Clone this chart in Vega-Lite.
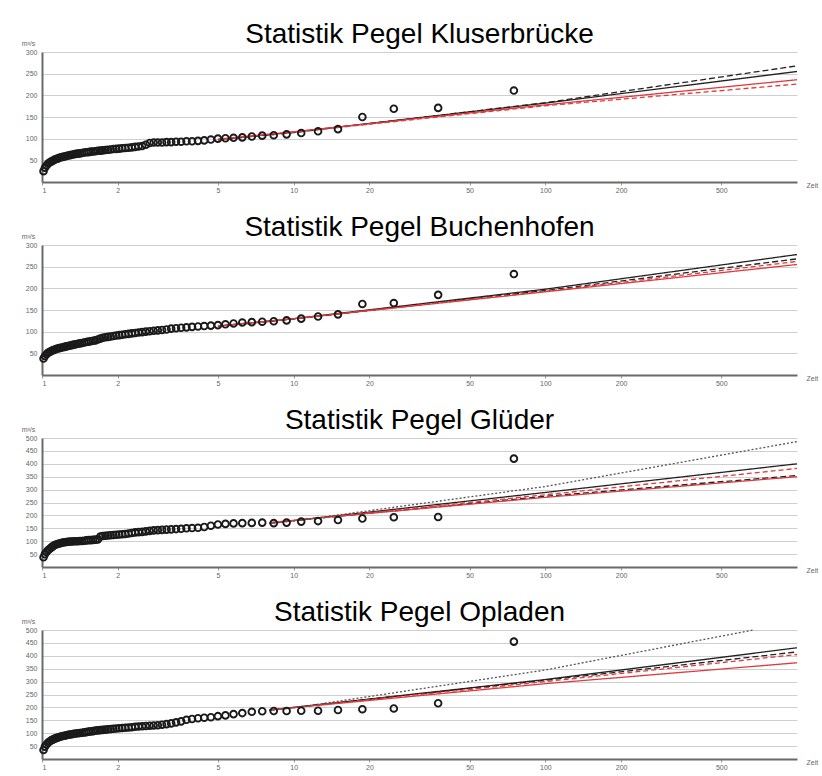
{
  "$schema": "https://vega.github.io/schema/vega-lite/v6.json",
  "background": "white",
  "padding": {"left": 21, "top": 21, "right": 5, "bottom": 5},
  "config": {
    "view": {"stroke": null},
    "font": "Liberation Sans",
    "title": {"font": "Liberation Sans", "fontSize": 28, "fontWeight": "normal", "color": "#000", "anchor": "middle", "baseline": "alphabetic", "offset": -10},
    "axis": {"labelFont": "Liberation Sans", "labelFontSize": 7, "labelColor": "#666", "labelOverlap": false, "tickCount": 30, "domainColor": "#6a6a6a", "domainWidth": 2, "gridColor": "#cfcfcf", "gridWidth": 1, "tickColor": "#999", "titleFont": "Liberation Sans", "titleFontSize": 7, "titleFontWeight": "normal", "titleColor": "#666"}
  },
  "datasets": {
    "points": [
      {"pegel":"K","T":75,"Q":211},{"pegel":"K","T":37.5,"Q":171},{"pegel":"K","T":25,"Q":169},{"pegel":"K","T":18.75,"Q":150},{"pegel":"K","T":15,"Q":122},{"pegel":"K","T":12.5,"Q":117},{"pegel":"K","T":10.714,"Q":113},{"pegel":"K","T":9.375,"Q":110},{"pegel":"K","T":8.333,"Q":108},{"pegel":"K","T":7.5,"Q":107},{"pegel":"K","T":6.818,"Q":105},{"pegel":"K","T":6.25,"Q":103},{"pegel":"K","T":5.769,"Q":102},{"pegel":"K","T":5.357,"Q":101},{"pegel":"K","T":5,"Q":100},{"pegel":"K","T":4.688,"Q":98},{"pegel":"K","T":4.412,"Q":96},{"pegel":"K","T":4.167,"Q":95},{"pegel":"K","T":3.947,"Q":94},{"pegel":"K","T":3.75,"Q":94},{"pegel":"K","T":3.571,"Q":93},{"pegel":"K","T":3.409,"Q":93},{"pegel":"K","T":3.261,"Q":92},{"pegel":"K","T":3.125,"Q":92},{"pegel":"K","T":3,"Q":91},{"pegel":"K","T":2.885,"Q":91},{"pegel":"K","T":2.778,"Q":91},{"pegel":"K","T":2.679,"Q":90},{"pegel":"K","T":2.586,"Q":86},{"pegel":"K","T":2.5,"Q":83},{"pegel":"K","T":2.419,"Q":82},{"pegel":"K","T":2.344,"Q":81},{"pegel":"K","T":2.273,"Q":80},{"pegel":"K","T":2.206,"Q":79},{"pegel":"K","T":2.143,"Q":78.5},{"pegel":"K","T":2.083,"Q":78},{"pegel":"K","T":2.027,"Q":77},{"pegel":"K","T":1.974,"Q":76.5},{"pegel":"K","T":1.923,"Q":76},{"pegel":"K","T":1.875,"Q":75},{"pegel":"K","T":1.829,"Q":74.5},{"pegel":"K","T":1.786,"Q":74},{"pegel":"K","T":1.744,"Q":73},{"pegel":"K","T":1.705,"Q":72.5},{"pegel":"K","T":1.667,"Q":72},{"pegel":"K","T":1.63,"Q":71},{"pegel":"K","T":1.596,"Q":70.5},{"pegel":"K","T":1.563,"Q":70},{"pegel":"K","T":1.531,"Q":69},{"pegel":"K","T":1.5,"Q":68.5},{"pegel":"K","T":1.471,"Q":68},{"pegel":"K","T":1.442,"Q":67},{"pegel":"K","T":1.415,"Q":66},{"pegel":"K","T":1.389,"Q":65.5},{"pegel":"K","T":1.364,"Q":65},{"pegel":"K","T":1.339,"Q":64},{"pegel":"K","T":1.316,"Q":63},{"pegel":"K","T":1.293,"Q":62},{"pegel":"K","T":1.271,"Q":61},{"pegel":"K","T":1.25,"Q":60},{"pegel":"K","T":1.23,"Q":59},{"pegel":"K","T":1.21,"Q":58},{"pegel":"K","T":1.19,"Q":57},{"pegel":"K","T":1.172,"Q":56},{"pegel":"K","T":1.154,"Q":54},{"pegel":"K","T":1.136,"Q":53},{"pegel":"K","T":1.119,"Q":51},{"pegel":"K","T":1.103,"Q":49},{"pegel":"K","T":1.087,"Q":47},{"pegel":"K","T":1.071,"Q":45},{"pegel":"K","T":1.056,"Q":42},{"pegel":"K","T":1.042,"Q":38},{"pegel":"K","T":1.027,"Q":33},{"pegel":"K","T":1.014,"Q":25},
      {"pegel":"B","T":75,"Q":233},{"pegel":"B","T":37.5,"Q":185},{"pegel":"B","T":25,"Q":166},{"pegel":"B","T":18.75,"Q":164},{"pegel":"B","T":15,"Q":140},{"pegel":"B","T":12.5,"Q":135},{"pegel":"B","T":10.714,"Q":130},{"pegel":"B","T":9.375,"Q":126},{"pegel":"B","T":8.333,"Q":124},{"pegel":"B","T":7.5,"Q":123},{"pegel":"B","T":6.818,"Q":122},{"pegel":"B","T":6.25,"Q":121},{"pegel":"B","T":5.769,"Q":119},{"pegel":"B","T":5.357,"Q":117},{"pegel":"B","T":5,"Q":115},{"pegel":"B","T":4.688,"Q":114},{"pegel":"B","T":4.412,"Q":113},{"pegel":"B","T":4.167,"Q":112},{"pegel":"B","T":3.947,"Q":111},{"pegel":"B","T":3.75,"Q":110},{"pegel":"B","T":3.571,"Q":109},{"pegel":"B","T":3.409,"Q":108},{"pegel":"B","T":3.261,"Q":107},{"pegel":"B","T":3.125,"Q":105},{"pegel":"B","T":3,"Q":104},{"pegel":"B","T":2.885,"Q":103},{"pegel":"B","T":2.778,"Q":102},{"pegel":"B","T":2.679,"Q":101},{"pegel":"B","T":2.586,"Q":100},{"pegel":"B","T":2.5,"Q":99},{"pegel":"B","T":2.419,"Q":98},{"pegel":"B","T":2.344,"Q":97},{"pegel":"B","T":2.273,"Q":96},{"pegel":"B","T":2.206,"Q":95},{"pegel":"B","T":2.143,"Q":94},{"pegel":"B","T":2.083,"Q":93},{"pegel":"B","T":2.027,"Q":92},{"pegel":"B","T":1.974,"Q":91},{"pegel":"B","T":1.923,"Q":90},{"pegel":"B","T":1.875,"Q":89},{"pegel":"B","T":1.829,"Q":88},{"pegel":"B","T":1.786,"Q":87},{"pegel":"B","T":1.744,"Q":86},{"pegel":"B","T":1.705,"Q":84},{"pegel":"B","T":1.667,"Q":82},{"pegel":"B","T":1.63,"Q":80},{"pegel":"B","T":1.596,"Q":79},{"pegel":"B","T":1.563,"Q":78},{"pegel":"B","T":1.531,"Q":77},{"pegel":"B","T":1.5,"Q":76},{"pegel":"B","T":1.471,"Q":75},{"pegel":"B","T":1.442,"Q":74},{"pegel":"B","T":1.415,"Q":73},{"pegel":"B","T":1.389,"Q":72},{"pegel":"B","T":1.364,"Q":71},{"pegel":"B","T":1.339,"Q":70},{"pegel":"B","T":1.316,"Q":69},{"pegel":"B","T":1.293,"Q":68},{"pegel":"B","T":1.271,"Q":67},{"pegel":"B","T":1.25,"Q":66},{"pegel":"B","T":1.23,"Q":65},{"pegel":"B","T":1.21,"Q":64},{"pegel":"B","T":1.19,"Q":63},{"pegel":"B","T":1.172,"Q":62},{"pegel":"B","T":1.154,"Q":61},{"pegel":"B","T":1.136,"Q":60},{"pegel":"B","T":1.119,"Q":58},{"pegel":"B","T":1.103,"Q":57},{"pegel":"B","T":1.087,"Q":55},{"pegel":"B","T":1.071,"Q":53},{"pegel":"B","T":1.056,"Q":51},{"pegel":"B","T":1.042,"Q":48},{"pegel":"B","T":1.027,"Q":44},{"pegel":"B","T":1.014,"Q":38},
      {"pegel":"G","T":75,"Q":420},{"pegel":"G","T":37.5,"Q":194},{"pegel":"G","T":25,"Q":193},{"pegel":"G","T":18.75,"Q":188},{"pegel":"G","T":15,"Q":182},{"pegel":"G","T":12.5,"Q":178},{"pegel":"G","T":10.714,"Q":176},{"pegel":"G","T":9.375,"Q":172},{"pegel":"G","T":8.333,"Q":170},{"pegel":"G","T":7.5,"Q":172},{"pegel":"G","T":6.818,"Q":171},{"pegel":"G","T":6.25,"Q":170},{"pegel":"G","T":5.769,"Q":169},{"pegel":"G","T":5.357,"Q":167},{"pegel":"G","T":5,"Q":165},{"pegel":"G","T":4.688,"Q":160},{"pegel":"G","T":4.412,"Q":155},{"pegel":"G","T":4.167,"Q":152},{"pegel":"G","T":3.947,"Q":151},{"pegel":"G","T":3.75,"Q":150},{"pegel":"G","T":3.571,"Q":148},{"pegel":"G","T":3.409,"Q":147},{"pegel":"G","T":3.261,"Q":146},{"pegel":"G","T":3.125,"Q":145},{"pegel":"G","T":3,"Q":144},{"pegel":"G","T":2.885,"Q":143},{"pegel":"G","T":2.778,"Q":142},{"pegel":"G","T":2.679,"Q":140},{"pegel":"G","T":2.586,"Q":138},{"pegel":"G","T":2.5,"Q":136},{"pegel":"G","T":2.419,"Q":135},{"pegel":"G","T":2.344,"Q":134},{"pegel":"G","T":2.273,"Q":132},{"pegel":"G","T":2.206,"Q":130},{"pegel":"G","T":2.143,"Q":128},{"pegel":"G","T":2.083,"Q":127},{"pegel":"G","T":2.027,"Q":126},{"pegel":"G","T":1.974,"Q":125},{"pegel":"G","T":1.923,"Q":124},{"pegel":"G","T":1.875,"Q":123},{"pegel":"G","T":1.829,"Q":122},{"pegel":"G","T":1.786,"Q":121},{"pegel":"G","T":1.744,"Q":120},{"pegel":"G","T":1.705,"Q":118},{"pegel":"G","T":1.667,"Q":107},{"pegel":"G","T":1.63,"Q":106},{"pegel":"G","T":1.596,"Q":105},{"pegel":"G","T":1.563,"Q":104},{"pegel":"G","T":1.531,"Q":104},{"pegel":"G","T":1.5,"Q":103},{"pegel":"G","T":1.471,"Q":102},{"pegel":"G","T":1.442,"Q":101},{"pegel":"G","T":1.415,"Q":101},{"pegel":"G","T":1.389,"Q":100},{"pegel":"G","T":1.364,"Q":100},{"pegel":"G","T":1.339,"Q":100},{"pegel":"G","T":1.316,"Q":99},{"pegel":"G","T":1.293,"Q":99},{"pegel":"G","T":1.271,"Q":98},{"pegel":"G","T":1.25,"Q":97},{"pegel":"G","T":1.23,"Q":96},{"pegel":"G","T":1.21,"Q":95},{"pegel":"G","T":1.19,"Q":93},{"pegel":"G","T":1.172,"Q":91},{"pegel":"G","T":1.154,"Q":89},{"pegel":"G","T":1.136,"Q":87},{"pegel":"G","T":1.119,"Q":84},{"pegel":"G","T":1.103,"Q":80},{"pegel":"G","T":1.087,"Q":75},{"pegel":"G","T":1.071,"Q":70},{"pegel":"G","T":1.056,"Q":65},{"pegel":"G","T":1.042,"Q":58},{"pegel":"G","T":1.027,"Q":50},{"pegel":"G","T":1.014,"Q":38},
      {"pegel":"O","T":75,"Q":455},{"pegel":"O","T":37.5,"Q":216},{"pegel":"O","T":25,"Q":196},{"pegel":"O","T":18.75,"Q":193},{"pegel":"O","T":15,"Q":190},{"pegel":"O","T":12.5,"Q":187},{"pegel":"O","T":10.714,"Q":187},{"pegel":"O","T":9.375,"Q":186},{"pegel":"O","T":8.333,"Q":186},{"pegel":"O","T":7.5,"Q":185},{"pegel":"O","T":6.818,"Q":183},{"pegel":"O","T":6.25,"Q":178},{"pegel":"O","T":5.769,"Q":174},{"pegel":"O","T":5.357,"Q":169},{"pegel":"O","T":5,"Q":166},{"pegel":"O","T":4.688,"Q":162},{"pegel":"O","T":4.412,"Q":160},{"pegel":"O","T":4.167,"Q":158},{"pegel":"O","T":3.947,"Q":155},{"pegel":"O","T":3.75,"Q":152},{"pegel":"O","T":3.571,"Q":146},{"pegel":"O","T":3.409,"Q":142},{"pegel":"O","T":3.261,"Q":138},{"pegel":"O","T":3.125,"Q":135},{"pegel":"O","T":3,"Q":133},{"pegel":"O","T":2.885,"Q":131},{"pegel":"O","T":2.778,"Q":130},{"pegel":"O","T":2.679,"Q":129},{"pegel":"O","T":2.586,"Q":128},{"pegel":"O","T":2.5,"Q":127},{"pegel":"O","T":2.419,"Q":126},{"pegel":"O","T":2.344,"Q":125},{"pegel":"O","T":2.273,"Q":123},{"pegel":"O","T":2.206,"Q":122},{"pegel":"O","T":2.143,"Q":121},{"pegel":"O","T":2.083,"Q":120},{"pegel":"O","T":2.027,"Q":119},{"pegel":"O","T":1.974,"Q":118},{"pegel":"O","T":1.923,"Q":117},{"pegel":"O","T":1.875,"Q":116},{"pegel":"O","T":1.829,"Q":115},{"pegel":"O","T":1.786,"Q":114},{"pegel":"O","T":1.744,"Q":113},{"pegel":"O","T":1.705,"Q":112},{"pegel":"O","T":1.667,"Q":111},{"pegel":"O","T":1.63,"Q":110},{"pegel":"O","T":1.596,"Q":108},{"pegel":"O","T":1.563,"Q":107},{"pegel":"O","T":1.531,"Q":106},{"pegel":"O","T":1.5,"Q":104},{"pegel":"O","T":1.471,"Q":103},{"pegel":"O","T":1.442,"Q":102},{"pegel":"O","T":1.415,"Q":101},{"pegel":"O","T":1.389,"Q":100},{"pegel":"O","T":1.364,"Q":99},{"pegel":"O","T":1.339,"Q":98},{"pegel":"O","T":1.316,"Q":96},{"pegel":"O","T":1.293,"Q":95},{"pegel":"O","T":1.271,"Q":94},{"pegel":"O","T":1.25,"Q":92},{"pegel":"O","T":1.23,"Q":90},{"pegel":"O","T":1.21,"Q":89},{"pegel":"O","T":1.19,"Q":87},{"pegel":"O","T":1.172,"Q":85},{"pegel":"O","T":1.154,"Q":83},{"pegel":"O","T":1.136,"Q":81},{"pegel":"O","T":1.119,"Q":78},{"pegel":"O","T":1.103,"Q":75},{"pegel":"O","T":1.087,"Q":72},{"pegel":"O","T":1.071,"Q":68},{"pegel":"O","T":1.056,"Q":63},{"pegel":"O","T":1.042,"Q":56},{"pegel":"O","T":1.027,"Q":48},{"pegel":"O","T":1.014,"Q":35}
    ],
    "fits": [
      {"pegel":"K","fit":"a","T":5,"Q":98},{"pegel":"K","fit":"a","T":10,"Q":115},{"pegel":"K","fit":"a","T":100,"Q":182},{"pegel":"K","fit":"a","T":1000,"Q":255},
      {"pegel":"K","fit":"b","T":5,"Q":97},{"pegel":"K","fit":"b","T":10,"Q":114},{"pegel":"K","fit":"b","T":100,"Q":183},{"pegel":"K","fit":"b","T":1000,"Q":268},
      {"pegel":"K","fit":"c","T":5,"Q":99},{"pegel":"K","fit":"c","T":10,"Q":116},{"pegel":"K","fit":"c","T":100,"Q":178},{"pegel":"K","fit":"c","T":1000,"Q":236},
      {"pegel":"K","fit":"d","T":5,"Q":98},{"pegel":"K","fit":"d","T":10,"Q":115},{"pegel":"K","fit":"d","T":100,"Q":176},{"pegel":"K","fit":"d","T":1000,"Q":226},
      {"pegel":"B","fit":"a","T":5,"Q":113},{"pegel":"B","fit":"a","T":10,"Q":130},{"pegel":"B","fit":"a","T":100,"Q":198},{"pegel":"B","fit":"a","T":1000,"Q":278},
      {"pegel":"B","fit":"b","T":5,"Q":112},{"pegel":"B","fit":"b","T":10,"Q":129},{"pegel":"B","fit":"b","T":100,"Q":195},{"pegel":"B","fit":"b","T":1000,"Q":268},
      {"pegel":"B","fit":"c","T":5,"Q":113},{"pegel":"B","fit":"c","T":10,"Q":130},{"pegel":"B","fit":"c","T":100,"Q":192},{"pegel":"B","fit":"c","T":1000,"Q":255},
      {"pegel":"B","fit":"d","T":5,"Q":113},{"pegel":"B","fit":"d","T":10,"Q":130},{"pegel":"B","fit":"d","T":100,"Q":193},{"pegel":"B","fit":"d","T":1000,"Q":262},
      {"pegel":"G","fit":"a","T":8,"Q":170},{"pegel":"G","fit":"a","T":10,"Q":180},{"pegel":"G","fit":"a","T":100,"Q":289},{"pegel":"G","fit":"a","T":1000,"Q":400},
      {"pegel":"G","fit":"b","T":8,"Q":171},{"pegel":"G","fit":"b","T":10,"Q":180},{"pegel":"G","fit":"b","T":100,"Q":274},{"pegel":"G","fit":"b","T":1000,"Q":355},
      {"pegel":"G","fit":"c","T":8,"Q":172},{"pegel":"G","fit":"c","T":10,"Q":181},{"pegel":"G","fit":"c","T":100,"Q":270},{"pegel":"G","fit":"c","T":1000,"Q":350},
      {"pegel":"G","fit":"d","T":8,"Q":170},{"pegel":"G","fit":"d","T":10,"Q":180},{"pegel":"G","fit":"d","T":100,"Q":280},{"pegel":"G","fit":"d","T":1000,"Q":382},
      {"pegel":"G","fit":"e","T":8,"Q":168},{"pegel":"G","fit":"e","T":10,"Q":178},{"pegel":"G","fit":"e","T":100,"Q":312},{"pegel":"G","fit":"e","T":1000,"Q":486},
      {"pegel":"O","fit":"a","T":8,"Q":190},{"pegel":"O","fit":"a","T":10,"Q":200},{"pegel":"O","fit":"a","T":100,"Q":308},{"pegel":"O","fit":"a","T":1000,"Q":431},
      {"pegel":"O","fit":"b","T":8,"Q":190},{"pegel":"O","fit":"b","T":10,"Q":200},{"pegel":"O","fit":"b","T":100,"Q":305},{"pegel":"O","fit":"b","T":1000,"Q":415},
      {"pegel":"O","fit":"c","T":8,"Q":190},{"pegel":"O","fit":"c","T":10,"Q":199},{"pegel":"O","fit":"c","T":100,"Q":292},{"pegel":"O","fit":"c","T":1000,"Q":373},
      {"pegel":"O","fit":"d","T":8,"Q":190},{"pegel":"O","fit":"d","T":10,"Q":200},{"pegel":"O","fit":"d","T":100,"Q":300},{"pegel":"O","fit":"d","T":1000,"Q":405},
      {"pegel":"O","fit":"e","T":8,"Q":188},{"pegel":"O","fit":"e","T":10,"Q":198},{"pegel":"O","fit":"e","T":100,"Q":345},{"pegel":"O","fit":"e","T":670,"Q":500}
    ]
  },
  "bounds": "flush",
  "spacing": 63,
  "vconcat": [
    {
      "width": 755, "height": 130,
      "title": {"text": "Statistik Pegel Kluserbrücke"},
      "layer": [
        {"data": {"name": "fits"}, "transform": [{"filter": "datum.pegel === 'K'"}],
         "mark": {"type": "line", "strokeWidth": 1.3},
         "encoding": {
           "x": {"field": "T", "type": "quantitative", "scale": {"type": "log", "domain": [1, 1000]}, "axis": {"values": [1,2,5,10,20,50,100,200,500], "tickCount": 30, "format": "d", "grid": false, "title": "Zeit", "titleX": 764, "titleY": 3, "titleAlign": "left", "titleBaseline": "middle", "titleAngle": 0, "tickSize": 3, "labelPadding": 1}},
           "y": {"field": "Q", "type": "quantitative", "scale": {"domain": [0, 300], "nice": false}, "axis": {"values": [50,100,150,200,250,300], "tickCount": 30, "title": "m³/s", "titleAngle": 0, "titleX": -14, "titleY": -9, "titleAlign": "center", "titleBaseline": "middle", "ticks": false, "labelPadding": 5}},
           "color": {"field": "fit", "type": "nominal", "scale": {"domain": ["a","b","c","d","e"], "range": ["#222222","#222222","#e0393e","#e0393e","#555555"]}, "legend": null},
           "strokeDash": {"field": "fit", "type": "nominal", "scale": {"domain": ["a","b","c","d","e"], "range": [[1,0],[6,3],[1,0],[5,3],[2,2]]}, "legend": null}
         }},
        {"data": {"name": "points"}, "transform": [{"filter": "datum.pegel === 'K'"}],
         "mark": {"type": "point", "filled": false, "size": 45, "strokeWidth": 1.9, "color": "#1a1a1a", "opacity": 1},
         "encoding": {"x": {"field": "T", "type": "quantitative"}, "y": {"field": "Q", "type": "quantitative"}}}
      ]
    },
    {
      "width": 755, "height": 130,
      "title": {"text": "Statistik Pegel Buchenhofen"},
      "layer": [
        {"data": {"name": "fits"}, "transform": [{"filter": "datum.pegel === 'B'"}],
         "mark": {"type": "line", "strokeWidth": 1.3},
         "encoding": {
           "x": {"field": "T", "type": "quantitative", "scale": {"type": "log", "domain": [1, 1000]}, "axis": {"values": [1,2,5,10,20,50,100,200,500], "tickCount": 30, "format": "d", "grid": false, "title": "Zeit", "titleX": 764, "titleY": 3, "titleAlign": "left", "titleBaseline": "middle", "titleAngle": 0, "tickSize": 3, "labelPadding": 1}},
           "y": {"field": "Q", "type": "quantitative", "scale": {"domain": [0, 300], "nice": false}, "axis": {"values": [50,100,150,200,250,300], "tickCount": 30, "title": "m³/s", "titleAngle": 0, "titleX": -14, "titleY": -9, "titleAlign": "center", "titleBaseline": "middle", "ticks": false, "labelPadding": 5}},
           "color": {"field": "fit", "type": "nominal", "scale": {"domain": ["a","b","c","d","e"], "range": ["#222222","#222222","#e0393e","#e0393e","#555555"]}, "legend": null},
           "strokeDash": {"field": "fit", "type": "nominal", "scale": {"domain": ["a","b","c","d","e"], "range": [[1,0],[6,3],[1,0],[5,3],[2,2]]}, "legend": null}
         }},
        {"data": {"name": "points"}, "transform": [{"filter": "datum.pegel === 'B'"}],
         "mark": {"type": "point", "filled": false, "size": 45, "strokeWidth": 1.9, "color": "#1a1a1a", "opacity": 1},
         "encoding": {"x": {"field": "T", "type": "quantitative"}, "y": {"field": "Q", "type": "quantitative"}}}
      ]
    },
    {
      "width": 755, "height": 129,
      "title": {"text": "Statistik Pegel Glüder"},
      "layer": [
        {"data": {"name": "fits"}, "transform": [{"filter": "datum.pegel === 'G'"}],
         "mark": {"type": "line", "strokeWidth": 1.3},
         "encoding": {
           "x": {"field": "T", "type": "quantitative", "scale": {"type": "log", "domain": [1, 1000]}, "axis": {"values": [1,2,5,10,20,50,100,200,500], "tickCount": 30, "format": "d", "grid": false, "title": "Zeit", "titleX": 764, "titleY": 3, "titleAlign": "left", "titleBaseline": "middle", "titleAngle": 0, "tickSize": 3, "labelPadding": 1}},
           "y": {"field": "Q", "type": "quantitative", "scale": {"domain": [0, 500], "nice": false}, "axis": {"values": [50,100,150,200,250,300,350,400,450,500], "tickCount": 30, "title": "m³/s", "titleAngle": 0, "titleX": -14, "titleY": -9, "titleAlign": "center", "titleBaseline": "middle", "ticks": false, "labelPadding": 5}},
           "color": {"field": "fit", "type": "nominal", "scale": {"domain": ["a","b","c","d","e"], "range": ["#222222","#222222","#e0393e","#e0393e","#555555"]}, "legend": null},
           "strokeDash": {"field": "fit", "type": "nominal", "scale": {"domain": ["a","b","c","d","e"], "range": [[1,0],[6,3],[1,0],[5,3],[2,2]]}, "legend": null}
         }},
        {"data": {"name": "points"}, "transform": [{"filter": "datum.pegel === 'G'"}],
         "mark": {"type": "point", "filled": false, "size": 45, "strokeWidth": 1.9, "color": "#1a1a1a", "opacity": 1},
         "encoding": {"x": {"field": "T", "type": "quantitative"}, "y": {"field": "Q", "type": "quantitative"}}}
      ]
    },
    {
      "width": 755, "height": 129,
      "title": {"text": "Statistik Pegel Opladen"},
      "layer": [
        {"data": {"name": "fits"}, "transform": [{"filter": "datum.pegel === 'O'"}],
         "mark": {"type": "line", "strokeWidth": 1.3},
         "encoding": {
           "x": {"field": "T", "type": "quantitative", "scale": {"type": "log", "domain": [1, 1000]}, "axis": {"values": [1,2,5,10,20,50,100,200,500], "tickCount": 30, "format": "d", "grid": false, "title": "Zeit", "titleX": 764, "titleY": 3, "titleAlign": "left", "titleBaseline": "middle", "titleAngle": 0, "tickSize": 3, "labelPadding": 1}},
           "y": {"field": "Q", "type": "quantitative", "scale": {"domain": [0, 500], "nice": false}, "axis": {"values": [50,100,150,200,250,300,350,400,450,500], "tickCount": 30, "title": "m³/s", "titleAngle": 0, "titleX": -14, "titleY": -9, "titleAlign": "center", "titleBaseline": "middle", "ticks": false, "labelPadding": 5}},
           "color": {"field": "fit", "type": "nominal", "scale": {"domain": ["a","b","c","d","e"], "range": ["#222222","#222222","#e0393e","#e0393e","#555555"]}, "legend": null},
           "strokeDash": {"field": "fit", "type": "nominal", "scale": {"domain": ["a","b","c","d","e"], "range": [[1,0],[6,3],[1,0],[5,3],[2,2]]}, "legend": null}
         }},
        {"data": {"name": "points"}, "transform": [{"filter": "datum.pegel === 'O'"}],
         "mark": {"type": "point", "filled": false, "size": 45, "strokeWidth": 1.9, "color": "#1a1a1a", "opacity": 1},
         "encoding": {"x": {"field": "T", "type": "quantitative"}, "y": {"field": "Q", "type": "quantitative"}}}
      ]
    }
  ]
}
